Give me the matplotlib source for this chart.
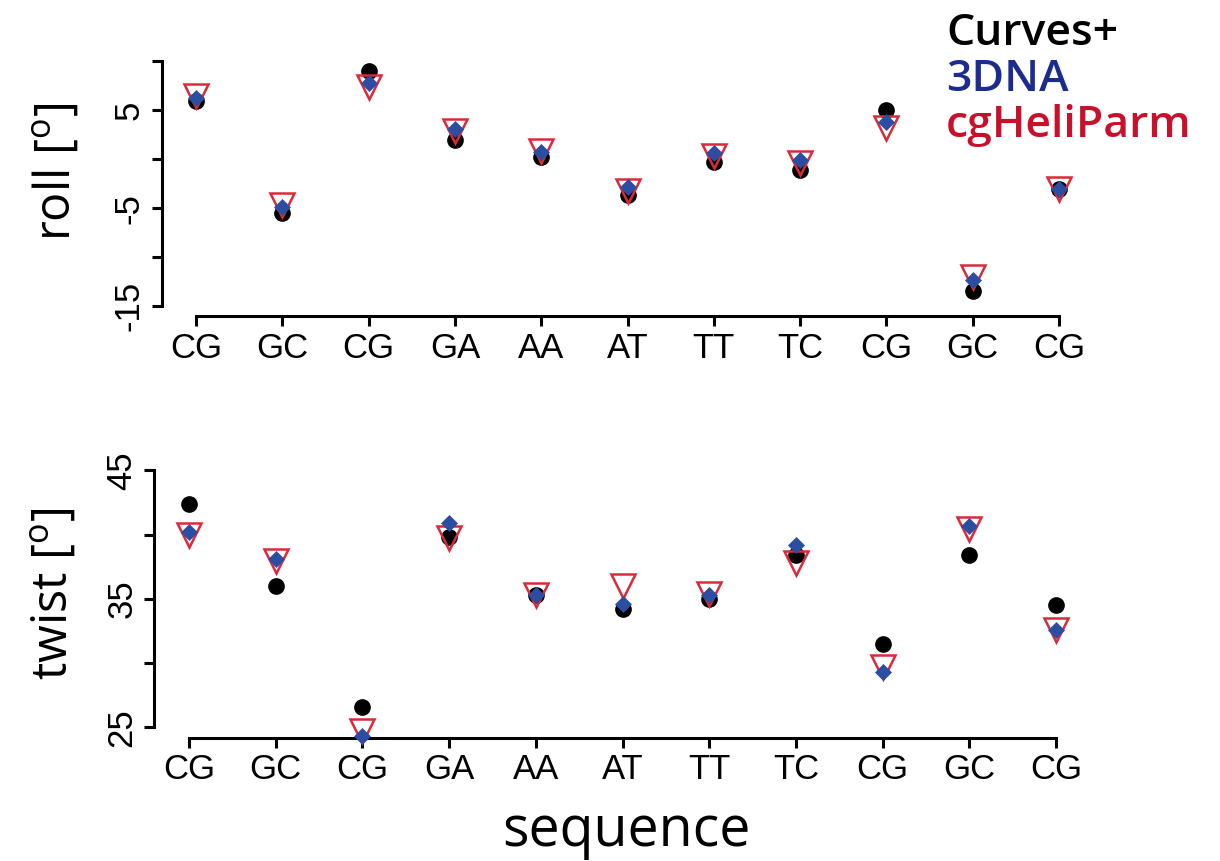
import matplotlib
matplotlib.use("Agg")
import matplotlib.pyplot as plt
import numpy as np

plt.rcParams['mathtext.fontset'] = 'custom'
plt.rcParams['mathtext.rm'] = 'Open Sans'
plt.rcParams['mathtext.it'] = 'Open Sans'

steps = ["CG", "GC", "CG", "GA", "AA", "AT", "TT", "TC", "CG", "GC", "CG"]

roll_curves = [5.9, -5.5, 9.0, 1.9, 0.2, -3.7, -0.3, -1.1, 5.0, -13.5, -3.0]
roll_3dna = [6.2, -4.9, 7.8, 3.1, 0.7, -2.8, 0.6, -0.1, 3.8, -12.3, -3.0]
roll_cghp = [6.4, -4.7, 7.3, 2.9, 0.8, -3.3, 0.3, -0.4, 3.2, -12.0, -3.1]

twist_curves = [42.4, 36.0, 26.6, 39.8, 35.3, 34.2, 35.0, 38.4, 31.5, 38.4, 34.5]
twist_3dna = [40.2, 38.1, 24.3, 40.9, 35.3, 34.6, 35.3, 39.2, 29.3, 40.7, 32.6]
twist_cghp = [40.0, 37.9, 24.7, 39.7, 35.3, 36.0, 35.4, 37.8, 29.7, 40.4, 32.6]

roll_ticks = [-15, -10, -5, 0, 5, 10]
roll_ticklabels = ["-15", "", "-5", "", "5", ""]
twist_ticks = [25, 30, 35, 40, 45]
twist_ticklabels = ["25", "", "35", "", "45"]

C_BLACK = "black"
C_BLUE = "#2B4DA2"
C_RED = "#DA2A3A"
T_BLUE = "#1B2C8E"
T_RED = "#C8102A"

W, H = 1220, 861
fig = plt.figure(figsize=(W / 100, H / 100), dpi=100)

def px_axes(l, t, r, b):
    return fig.add_axes([l / W, 1 - b / H, (r - l) / W, (b - t) / H])

ax1 = px_axes(161.5, 51.2, 1093.5, 316)
ax2 = px_axes(154.3, 460, 1090.7, 737.5)

x = np.arange(1, len(steps) + 1)
TICKFONT = dict(family="Liberation Sans", size=25)

def style(ax, ylim, yticks, yticklabels, ybounds):
    ax.set_xlim(0.6, 11.4)
    ax.set_ylim(*ylim)
    for s in ["top", "right"]:
        ax.spines[s].set_visible(False)
    for s in ["left", "bottom"]:
        ax.spines[s].set_linewidth(2.2)
    ax.spines["left"].set_bounds(*ybounds)
    ax.spines["bottom"].set_bounds(1, 11)
    ax.set_xticks(x)
    ax.set_xticklabels(steps, fontdict=TICKFONT)
    ax.set_yticks(yticks)
    ax.set_yticklabels(yticklabels, fontdict=TICKFONT, rotation=90, va="center")
    ax.tick_params(axis="both", length=7.5, width=2.2, color="black")
    ax.tick_params(axis="x", pad=4)
    ax.tick_params(axis="y", pad=4)
    ax.patch.set_alpha(0)

def draw(ax, a, b, c):
    ax.plot(x, a, linestyle="none", marker="o", ms=11, mfc=C_BLACK, mec=C_BLACK, zorder=3, clip_on=False)
    ax.plot(x, c, linestyle="none", marker="v", ms=17.5, mfc="none", mec=C_RED, mew=1.8, zorder=4, clip_on=False)
    ax.plot(x, b, linestyle="none", marker="D", ms=8.2, mfc=C_BLUE, mec=C_BLUE, mew=0.5, zorder=5, clip_on=False)

draw(ax1, roll_curves, roll_3dna, roll_cghp)
draw(ax2, twist_curves, twist_3dna, twist_cghp)
style(ax1, (-16, 11), roll_ticks, roll_ticklabels, (-15, 10))
style(ax2, (24.2, 45.8), twist_ticks, twist_ticklabels, (25, 45))

LABFONT = dict(family="Open Sans", size=35)
fig.text(57 / W, 1 - 172 / H, r"roll [$^{\mathrm{o}}$]", rotation=90, ha="center", va="center", **LABFONT)
fig.text(55 / W, 1 - 594 / H, r"twist [$^{\mathrm{o}}$]", rotation=90, ha="center", va="center", **LABFONT)
fig.text(626 / W, 1 - 846 / H, "sequence", ha="center", va="baseline", family="Open Sans", size=40)

LEG = dict(family="Open Sans", size=32, weight="semibold", ha="left", va="baseline")
fig.text(946 / W, 1 - 45 / H, "Curves+", color=C_BLACK, **LEG)
fig.text(946 / W, 1 - 91 / H, "3DNA", color=T_BLUE, **LEG)
fig.text(946 / W, 1 - 137 / H, "cgHeliParm", color=T_RED, **LEG)

fig.savefig("out.png", dpi=100)
